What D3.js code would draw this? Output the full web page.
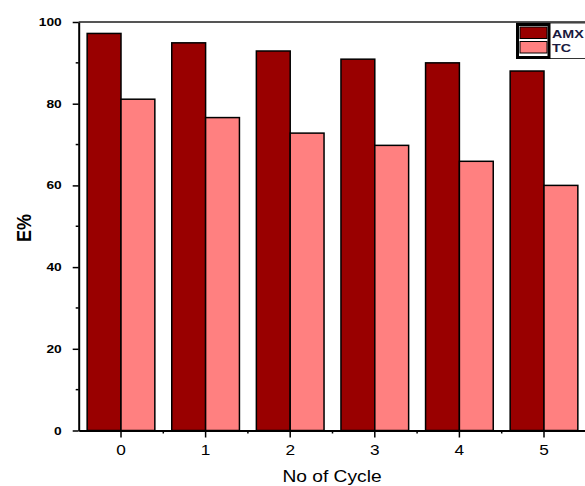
<!DOCTYPE html>
<html>
<head>
<meta charset="utf-8">
<script src="https://cdn.jsdelivr.net/npm/d3@7"></script>
<style>
  html, body { margin: 0; padding: 0; background: #fff; }
  svg { display: block; }
  text { font-family: "Liberation Sans", Arial, sans-serif; fill: #000; }
</style>
</head>
<body>
<svg id="chart" width="585" height="486"></svg>
<script>
// Removal efficiency over repeated regeneration cycles
const cycles = ["0", "1", "2", "3", "4", "5"];
const seriesNames = ["AMX", "TC"];
const amxValues = [97.2, 94.9, 92.9, 90.9, 90.0, 88.0];
const tcValues = [81.1, 76.6, 72.8, 69.8, 65.9, 60.0];
const yMajorTicks = [0, 20, 40, 60, 80, 100];
const yMinorTicks = [10, 30, 50, 70, 90];
const seriesColors = ["#990000", "#ff8080"];

const svg = d3.select("#chart");
const margin = { left: 78.7, right: 586.3, top: 22, bottom: 430.5 };

const x = d3.scaleBand()
  .domain(cycles)
  .range([margin.left, margin.right])
  .paddingInner(0.2)
  .paddingOuter(0.1);

const xSub = d3.scaleBand()
  .domain(seriesNames)
  .range([0, x.bandwidth()]);

const y = d3.scaleLinear().domain([0, 100]).range([margin.bottom, margin.top]);

const color = d3.scaleOrdinal().domain(seriesNames).range(seriesColors);

const rows = cycles.map((c, i) => ({ cycle: c, AMX: amxValues[i], TC: tcValues[i] }));

// Bars
const groups = svg.append("g").selectAll("g")
  .data(rows)
  .join("g")
  .attr("transform", d => `translate(${x(d.cycle)},0)`);

groups.selectAll("rect")
  .data(d => seriesNames.map(s => ({ key: s, value: d[s] })))
  .join("rect")
  .attr("x", d => xSub(d.key))
  .attr("y", d => y(d.value))
  .attr("width", xSub.bandwidth())
  .attr("height", d => y(0) - y(d.value))
  .attr("fill", d => color(d.key))
  .attr("stroke", "#000")
  .attr("stroke-width", 1.5);

// Top frame line
svg.append("line")
  .attr("x1", margin.left).attr("x2", 585)
  .attr("y1", margin.top).attr("y2", margin.top)
  .attr("stroke", "#555").attr("stroke-width", 2);

// Y axis
const yAxis = svg.append("g")
  .attr("transform", `translate(${margin.left},0)`)
  .call(d3.axisLeft(y).tickValues(yMajorTicks).tickSize(6).tickPadding(11).tickSizeOuter(0));
yAxis.select(".domain").attr("stroke-width", 2);
yAxis.selectAll(".tick line").attr("stroke-width", 1.5);
yAxis.selectAll("text")
  .attr("x", 0)
  .attr("transform", "translate(-17,0) scale(1.25,1)")
  .style("font-size", "11px")
  .style("font-weight", "bold");

svg.append("g")
  .attr("transform", `translate(${margin.left},0)`)
  .selectAll("line")
  .data(yMinorTicks)
  .join("line")
  .attr("x1", -3).attr("x2", 0)
  .attr("y1", d => y(d)).attr("y2", d => y(d))
  .attr("stroke", "#000").attr("stroke-width", 1.5);

// X axis
const xAxis = svg.append("g")
  .attr("transform", `translate(0,${margin.bottom})`)
  .call(d3.axisBottom(x).tickSize(7).tickPadding(7).tickSizeOuter(0));
xAxis.select(".domain").attr("stroke-width", 2);
xAxis.selectAll(".tick line").attr("stroke-width", 1.5);
xAxis.selectAll("text")
  .attr("transform", "scale(1.15,1)")
  .style("font-size", "15px");

svg.append("g")
  .attr("transform", `translate(0,${margin.bottom})`)
  .selectAll("line")
  .data(cycles.slice(0, -1))
  .join("line")
  .attr("x1", d => x(d) + x.bandwidth() / 2 + x.step() / 2)
  .attr("x2", d => x(d) + x.bandwidth() / 2 + x.step() / 2)
  .attr("y1", 0).attr("y2", 3)
  .attr("stroke", "#000").attr("stroke-width", 1.5);

// Axis titles
svg.append("text")
  .attr("transform", `translate(332,482) scale(1.2,1)`)
  .attr("text-anchor", "middle")
  .style("font-size", "16px")
  .text("No of Cycle");

svg.append("text")
  .attr("transform", `translate(31,228) scale(1.15,1) rotate(-90)`)
  .attr("text-anchor", "middle")
  .style("font-size", "18px")
  .style("font-weight", "bold")
  .text("E%");

// Legend
const legend = svg.append("g");
legend.append("rect")
  .attr("x", 516.5).attr("y", 23).attr("width", 70).attr("height", 35.5)
  .attr("fill", "#fff").attr("stroke", "#333").attr("stroke-width", 1);
legend.append("rect")
  .attr("x", 517.5).attr("y", 24.5).attr("width", 31.5).attr("height", 33)
  .attr("fill", "none").attr("stroke", "#000").attr("stroke-width", 3);
seriesNames.forEach((s, i) => {
  legend.append("rect")
    .attr("x", 520).attr("y", 27 + i * 14.5)
    .attr("width", 27).attr("height", 11.5)
    .attr("fill", color(s)).attr("stroke", "#000").attr("stroke-width", 1);
  legend.append("text")
    .attr("transform", `translate(552,${37.5 + i * 14.5}) scale(1.3,1)`)
    .style("font-size", "11px")
    .style("font-weight", "bold")
    .style("fill", "#1a1a40")
    .text(s);
});
</script>
</body>
</html>
